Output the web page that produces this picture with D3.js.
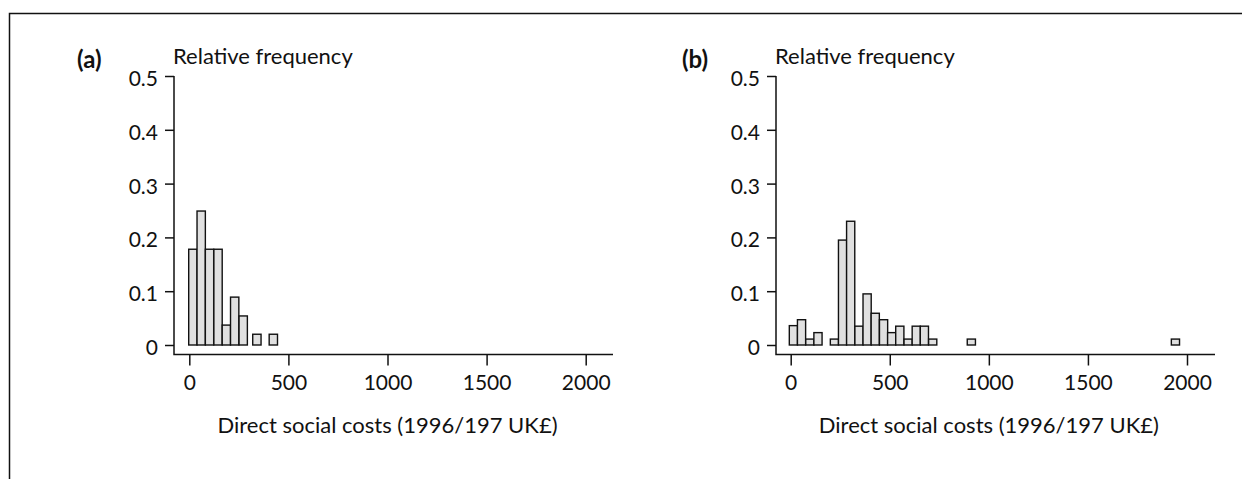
<!DOCTYPE html>
<html>
<head>
<meta charset="utf-8">
<script src="https://cdn.jsdelivr.net/npm/d3@7"></script>
<style>
  body { margin: 0; background: #fff; }
  svg { display: block; font-family: Lato, "Open Sans", sans-serif; }
  text { fill: #111; }
</style>
</head>
<body>
<svg id="chart"></svg>
<script>
const WIDTH = 1242;
const HEIGHT = 479;
const FONT = "Lato, 'Open Sans', sans-serif";

// data (relative frequencies, bin left edges in UK£)
const BIN_WIDTH_A = 42;
const binStartA = [-3, 39, 81, 124, 166, 208, 251, 320, 403];
const freqA = [0.178, 0.249, 0.178, 0.178, 0.037, 0.089, 0.054, 0.02, 0.02];

const BIN_WIDTH_B = 41.3;
const binStartB = [-7, 34, 76, 117, 200, 241, 282, 324, 365, 406, 448, 489, 530, 572, 613, 654, 696, 891, 1921];
const freqB = [0.036, 0.047, 0.011, 0.023, 0.011, 0.195, 0.23, 0.035, 0.095, 0.059, 0.047, 0.023, 0.035, 0.011, 0.035, 0.035, 0.011, 0.011, 0.011];

const xTicks = [0, 500, 1000, 1500, 2000];
const yTicks = [0, 0.1, 0.2, 0.3, 0.4, 0.5];
const yTickLabels = ["0", "0.1", "0.2", "0.3", "0.4", "0.5"];
const xTitle = "Direct social costs (1996/197 UK£)";
const yTitle = "Relative frequency";

const svg = d3.select("#chart").attr("width", WIDTH).attr("height", HEIGHT);

// outer frame (only top and left visible)
svg.append("path")
  .attr("d", `M9.5,${HEIGHT + 5} V13.5 H${WIDTH + 5}`)
  .attr("fill", "none")
  .attr("stroke", "#111")
  .attr("stroke-width", 1.5);

const yScale = d3.scaleLinear().domain([0, 0.5]).range([345, 76]);
const AXIS_Y = 354.5;

function drawPanel({ label, labelX, axisX, range, axisEnd, starts, freqs, binWidth }) {
  const g = svg.append("g");
  const x = d3.scaleLinear().domain([0, 2000]).range(range);

  // bars
  g.append("g")
    .attr("fill", "#e0e0e0")
    .attr("stroke", "#111")
    .attr("stroke-width", 1.4)
    .selectAll("rect")
    .data(starts.map((s, i) => ({ s, f: freqs[i] })))
    .join("rect")
    .attr("x", (d) => x(d.s))
    .attr("y", (d) => yScale(d.f))
    .attr("width", (d) => x(d.s + binWidth) - x(d.s))
    .attr("height", (d) => yScale(0) - yScale(d.f));

  // y axis
  const yAxis = d3.axisLeft(yScale)
    .tickValues(yTicks)
    .tickFormat((d, i) => yTickLabels[i])
    .tickSize(9)
    .tickPadding(7)
    .tickSizeOuter(0);
  const ya = g.append("g")
    .attr("transform", `translate(${axisX},0)`)
    .call(yAxis)
    .attr("font-family", FONT)
    .attr("font-size", 21);
  ya.select(".domain").remove();
  ya.selectAll("line").attr("stroke", "#111").attr("stroke-width", 1.5);
  ya.selectAll("text").attr("dy", "0.45em").attr("fill", "#111");

  // x axis
  const xAxis = d3.axisBottom(x)
    .tickValues(xTicks)
    .tickFormat(d3.format("d"))
    .tickSize(11)
    .tickPadding(10)
    .tickSizeOuter(0);
  const xa = g.append("g")
    .attr("transform", `translate(0,${AXIS_Y})`)
    .call(xAxis)
    .attr("font-family", FONT)
    .attr("font-size", 21);
  xa.select(".domain").remove();
  xa.selectAll("line").attr("stroke", "#111").attr("stroke-width", 1.5);
  xa.selectAll("text").attr("fill", "#111");

  // L-shaped axis lines
  g.append("path")
    .attr("d", `M${axisX},${yScale(0.5)} V${AXIS_Y} H${axisEnd}`)
    .attr("fill", "none")
    .attr("stroke", "#111")
    .attr("stroke-width", 1.5);

  // titles
  g.append("text")
    .attr("x", labelX)
    .attr("y", 68)
    .attr("font-size", 24)
    .attr("font-weight", "bold")
    .text(label);
  g.append("text")
    .attr("x", axisX - 1)
    .attr("y", 64)
    .attr("font-size", 22)
    .text(yTitle);
  g.append("text")
    .attr("x", (range[0] + range[1]) / 2)
    .attr("y", 433)
    .attr("text-anchor", "middle")
    .attr("font-size", 22)
    .text(xTitle);
}

drawPanel({
  label: "(a)", labelX: 77, axisX: 174, range: [189.3, 585.7], axisEnd: 613,
  starts: binStartA, freqs: freqA, binWidth: BIN_WIDTH_A
});
drawPanel({
  label: "(b)", labelX: 682, axisX: 776, range: [790.7, 1187], axisEnd: 1215,
  starts: binStartB, freqs: freqB, binWidth: BIN_WIDTH_B
});
</script>
</body>
</html>
